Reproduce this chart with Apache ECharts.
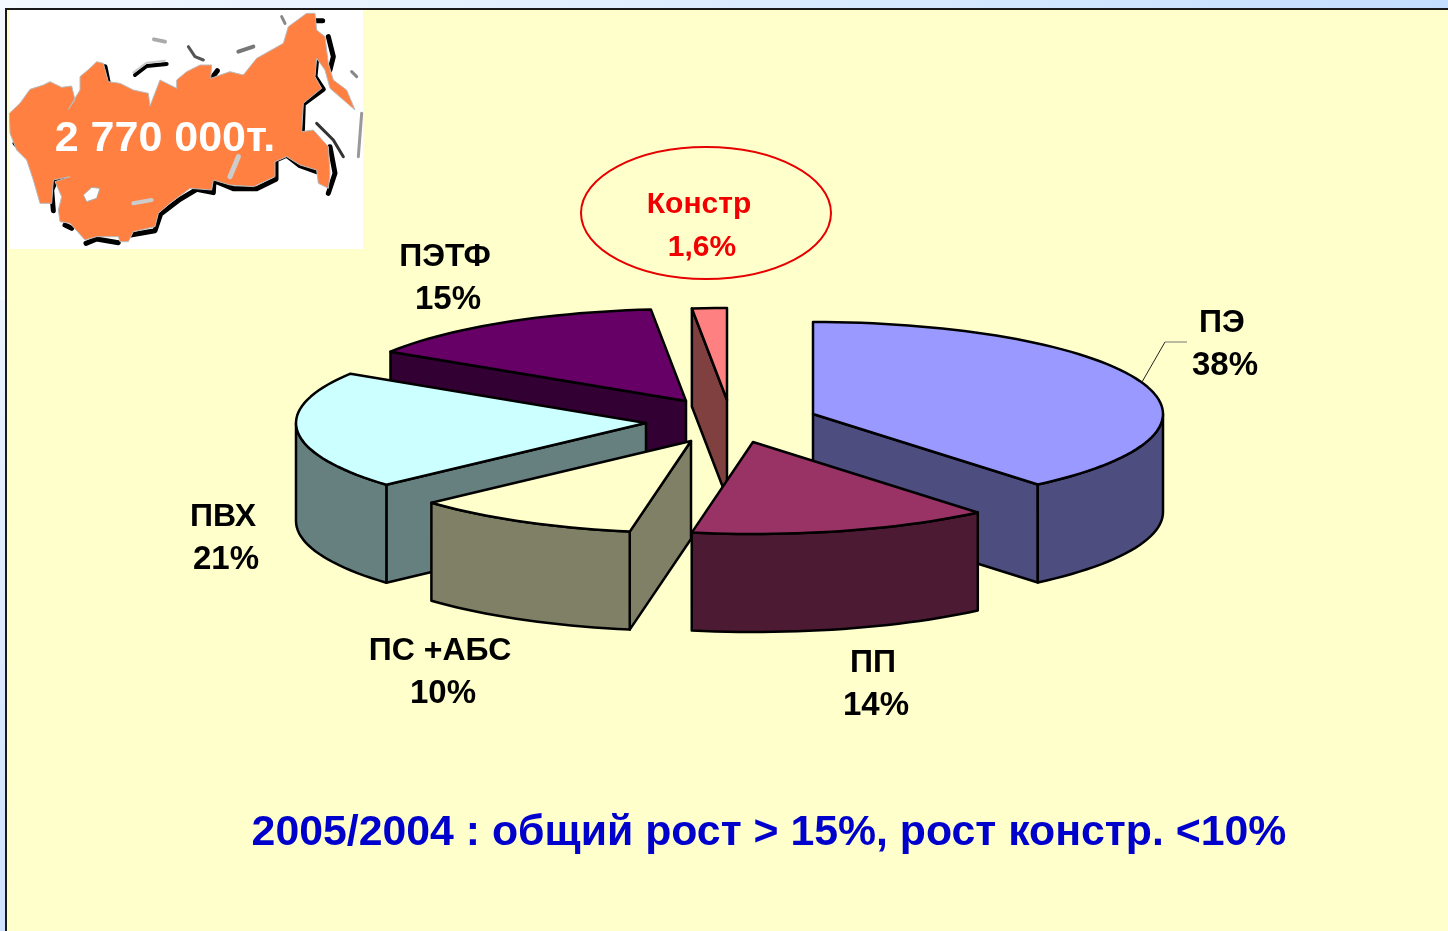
<!DOCTYPE html>
<html>
<head>
<meta charset="utf-8">
<title>Полимеры</title>
<style>
  html, body { margin: 0; padding: 0; background: #FFFFCC; }
  #main { width: 1448px; height: 931px; }
</style>
<script src="https://cdn.jsdelivr.net/npm/echarts@6/dist/echarts.min.js"></script>
</head>
<body>
<div id="main"></div>
<script>
// values as drawn in the picture, clockwise from 12 o'clock
var categories = ["ПЭ", "ПП", "ПС +АБС", "ПВХ", "ПЭТФ", "Констр"];
var shares = [38.9, 13.9, 10.5, 20.7, 14.4, 1.6];
var percentLabels = ["38%", "14%", "10%", "21%", "15%", "1,6%"];
var totalLabel = "2 770 000т.";
var titleText = "2005/2004 : общий рост > 15%, рост констр. <10%";

// styling and layout of the slices
var topColors = ["#9999FF", "#993366", "#FFFFCC", "#CCFFFF", "#660066", "#FF8080"];
var wallColors = ["#4D4D80", "#4D1A33", "#808066", "#668080", "#330033", "#804040"];
var explode = [[83, -7], [23, 21], [-39, 20], [-84, 2], [-44, -20], [-3, -21]]; // px from pie centre
var drawOrder = [5, 4, 3, 0, 2, 1]; // back to front
var labelAt = [[1222, 323], [873, 663], [440, 651], [223, 517], [445, 257], [699, 205]]; // first text line
var cx = 730, cy = 421, rx = 350, ry = 92, depth = 98;

var total = shares.reduce(function (a, b) { return a + b; }, 0);

function pt(ox, oy, deg) { // point on the rim, deg clockwise from 12 o'clock
  var t = deg * Math.PI / 180;
  return [ox + rx * Math.sin(t), oy - ry * Math.cos(t)];
}

function arc(ox, oy, from, to) {
  var out = [];
  var n = Math.max(2, Math.ceil(Math.abs(to - from) / 2));
  for (var i = 0; i <= n; i++) out.push(pt(ox, oy, from + (to - from) * i / n));
  return out;
}

function poly(points, fill) {
  return {
    type: "polygon",
    shape: { points: points },
    style: { fill: fill, stroke: "#000", lineWidth: 2.5, lineJoin: "round" }
  };
}

function wallOf(p, q, fill) { // quad hanging under the segment p-q
  return poly([p, q, [q[0], q[1] + depth], [p[0], p[1] + depth]], fill);
}

function renderSlice(params, api) {
  var i = api.value(1);
  var before = 0;
  for (var k = 0; k < i; k++) before += shares[k];
  var a0 = before / total * 360;
  var a1 = (before + api.value(0)) / total * 360;
  var ox = cx + explode[i][0], oy = cy + explode[i][1];
  var apex = [ox, oy];
  var kids = [];

  // cut faces that look toward the viewer
  if (Math.sin(a0 * Math.PI / 180) < -0.001) kids.push(wallOf(apex, pt(ox, oy, a0), wallColors[i]));
  if (Math.sin(a1 * Math.PI / 180) > 0.001) kids.push(wallOf(apex, pt(ox, oy, a1), wallColors[i]));

  // outer wall, front half only
  var from = Math.max(a0, 90), to = Math.min(a1, 270);
  if (to > from) {
    var rim = arc(ox, oy, from, to);
    var under = rim.map(function (p) { return [p[0], p[1] + depth]; }).reverse();
    kids.push(poly(rim.concat(under), wallColors[i]));
  }

  kids.push(poly([apex].concat(arc(ox, oy, a0, a1)), topColors[i]));
  return { type: "group", children: kids };
}

// the map of Russia behind the total, traced outline (3x crop coordinates)
var mapOutline = [[28,340],[60,310],[90,268],[130,255],[150,245],[185,262],[215,258],[225,300],[205,328],[240,270],[240,230],
  [270,205],[290,185],[310,190],[325,245],[360,250],[400,270],[445,280],[450,318],[480,240],[530,265],[530,240],[560,215],
  [600,195],[635,195],[632,235],[690,215],[730,225],[770,175],[850,130],[865,80],[920,40],[945,40],[950,90],[975,110],
  [985,190],[1000,240],[1040,270],[1065,330],[990,265],[975,210],[950,175],[945,230],[965,265],[910,310],[905,395],
  [940,390],[985,440],[990,520],[985,565],[955,550],[950,510],[900,495],[860,470],[825,485],[825,530],[760,560],[690,555],
  [640,540],[635,570],[570,565],[510,610],[475,640],[465,680],[400,695],[385,725],[360,725],[355,710],[290,710],[255,720],
  [210,670],[180,665],[175,630],[185,590],[165,545],[210,530],[160,540],[155,610],[120,610],[100,540],[80,480],[50,450],[30,400]];

// thick black shadow along the south and east coasts
var mapShadows = [
  [[215,530],[170,535],[155,570],[160,632]],
  [[258,730],[290,717],[355,728]],
  [[392,705],[465,692],[482,642],[540,598],[590,568],[640,578],[642,542],[700,566],[770,566],[828,538],[828,480],[860,466],[900,497],[950,515]],
  [[990,440],[1005,520],[985,580]],
  [[907,395],[910,312],[970,268],[945,230],[950,178]],
  [[985,110],[1000,170],[990,210]],
  [[925,62],[968,62]],
  [[195,675],[215,685]],
  [[45,430],[55,440]],
  [[270,250],[280,225]],
  [[315,200],[325,250]],
  [[455,322],[485,300],[480,270]],
  [[635,235],[652,212]]
];

function z3(list, dx, dy) { // crop coordinates to page pixels
  return list.map(function (p) { return [p[0] / 3 + (dx || 0), p[1] / 3 + (dy || 0)]; });
}

function line3(list, color, width, z) {
  return {
    type: "polyline", z: z || 3,
    shape: { points: z3(list) },
    style: { stroke: color, lineWidth: width, fill: null, lineCap: "round", lineJoin: "round" }
  };
}

var graphics = [
  { type: "rect", z: 0, shape: { x: 0, y: 0, width: 1448, height: 931 },
    style: { fill: new echarts.graphic.LinearGradient(0, 0, 1, 0.3, [
      { offset: 0, color: "#F4F9FF" }, { offset: 1, color: "#C2DDFF" }]) } },
  { type: "rect", z: 0, shape: { x: 0, y: 300, width: 6, height: 631 },
    style: { fill: new echarts.graphic.LinearGradient(0, 0, 0, 1, [
      { offset: 0, color: "#EAF3FF" }, { offset: 1, color: "#CFE2FF" }]) } },
  { type: "rect", z: 1, shape: { x: 6, y: 9, width: 1442, height: 922 },
    style: { fill: "#FFFFCC" } },
  { type: "polyline", z: 1, shape: { points: [[6, 931], [6, 9], [1448, 9]] },
    style: { stroke: "#1a1a1a", lineWidth: 2, fill: null } },
  { type: "rect", z: 1, shape: { x: 9, y: 10, width: 354, height: 239 }, style: { fill: "#fff" } },
  // map body, lakes and islands
  { type: "polygon", z: 3, shape: { points: z3(mapOutline) },
    style: { fill: "#FF8040", stroke: "#bbb", lineWidth: 1 } },
  line3([[405,225],[440,198],[500,192]], "#000", 4),
  line3([[400,218],[440,188],[495,182]], "#ccc", 2),
  line3([[565,140],[585,170],[610,180]], "#555", 3),
  line3([[715,155],[760,140]], "#777", 4),
  line3([[462,118],[495,125]], "#aaa", 4),
  line3([[845,50],[855,70]], "#888", 3),
  line3([[950,370],[1000,420],[1030,470]], "#333", 3),
  line3([[1085,340],[1075,470]], "#999", 3),
  line3([[1055,215],[1070,230]], "#888", 3),
  { type: "polygon", z: 3, shape: { points: z3([[250,585],[275,562],[300,565],[290,595],[260,605]]) },
    style: { fill: "#fff", stroke: "#aaa", lineWidth: 1 } },
  line3([[400,610],[455,600]], "#ccc", 4),
  line3([[690,530],[715,470]], "#ccc", 5),
  { type: "text", z: 5, x: 165, y: 139,
    style: { text: totalLabel, fill: "#fff", font: "bold 43px 'Liberation Sans'",
      align: "center", verticalAlign: "middle" } },
  // red ring around the construction share
  { type: "ellipse", z: 5, shape: { cx: 706, cy: 213, rx: 125, ry: 66 },
    style: { fill: null, stroke: "#E60000", lineWidth: 2 } },
  // leader of the ПЭ label
  { type: "polyline", z: 5, shape: { points: [[1142, 382], [1165, 342]] },
    style: { stroke: "#222", lineWidth: 1, fill: null } },
  { type: "polyline", z: 5, shape: { points: [[1165, 342], [1187, 342]] },
    style: { stroke: "#777", lineWidth: 1, fill: null } },
  { type: "text", z: 5, x: 769, y: 833,
    style: { text: titleText, fill: "#0000CC", font: "bold 42.8px 'Liberation Sans'",
      align: "center", verticalAlign: "middle" } }
];

mapShadows.forEach(function (s) { graphics.push(line3(s, "#000", 5, 2)); });

categories.forEach(function (name, i) {
  var color = i === 5 ? "#F00000" : "#000";
  var size = i === 5 ? 30 : 32;
  graphics.push({ type: "text", z: 5, x: labelAt[i][0], y: labelAt[i][1],
    style: { text: name, fill: color, font: "bold " + size + "px 'Liberation Sans'",
      align: "center", verticalAlign: "middle" } });
  graphics.push({ type: "text", z: 5, x: labelAt[i][0] + 3, y: labelAt[i][1] + 43,
    style: { text: percentLabels[i], fill: color, font: "bold " + (i === 5 ? 30 : 33) + "px 'Liberation Sans'",
      align: "center", verticalAlign: "middle" } });
});

var chart = echarts.init(document.getElementById("main"));
chart.setOption({
  animation: false,
  graphic: { elements: graphics },
  series: [{
    type: "custom",
    coordinateSystem: "none",
    z: 4,
    renderItem: renderSlice,
    encode: { value: 0 },
    data: drawOrder.map(function (i) { return { name: categories[i], value: [shares[i], i] }; })
  }]
});
</script>
</body>
</html>
